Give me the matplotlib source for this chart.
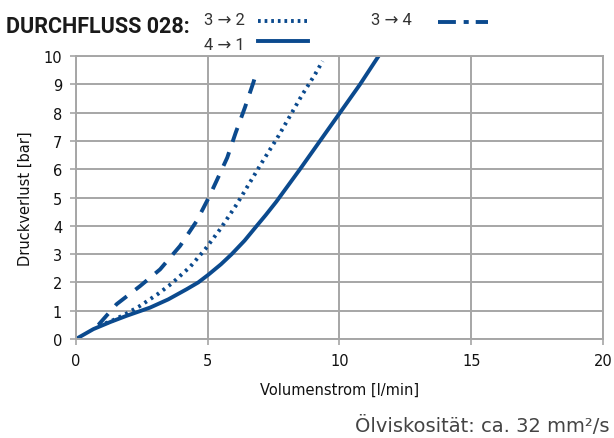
import matplotlib
matplotlib.use("Agg")
import matplotlib.pyplot as plt
from matplotlib.lines import Line2D

# Durchfluss 028, Druckverlust über Volumenstrom
x_41 = [0, 0.66, 1.3, 1.92, 2.81, 3.5, 4.2, 4.64, 5.02, 5.5, 5.91, 6.4, 6.86, 7.2,
        7.6, 8.5, 9.26, 9.99, 10.78, 11.47]
y_41 = [0, 0.35, 0.6, 0.82, 1.11, 1.4, 1.76, 2.0, 2.27, 2.64, 3.0, 3.48, 4.0, 4.38,
        4.85, 6.0, 7.0, 7.96, 9.0, 9.98]

x_32 = [0.85, 1.35, 1.86, 2.43, 3.12, 3.63, 4.33, 4.9, 5.47, 6.1, 7.05, 7.68, 8.12, 8.57, 9.07, 9.36]
y_32 = [0.46, 0.64, 0.87, 1.17, 1.6, 1.96, 2.55, 3.17, 3.88, 4.76, 6.23, 7.17, 7.88, 8.61, 9.35, 9.82]

x_34 = [0.85, 1.54, 2.43, 3.19, 3.95, 4.58, 5.05, 5.34, 5.74, 6.06, 6.41, 6.73, 6.88]
y_34 = [0.5, 1.23, 1.87, 2.46, 3.29, 4.17, 5.02, 5.6, 6.41, 7.29, 8.18, 9.06, 9.53]

xticks = [0, 5, 10, 15, 20]
yticks = list(range(0, 11))

blue = "#0b4a8e"
grid = "#a6a6a6"
txt = "#333333"
narrow = ['Roboto', 'DejaVu Sans']

plt.rcParams['font.family'] = ['DejaVu Sans']

fig = plt.figure(figsize=(6.14, 4.39), dpi=100)
ax = fig.add_axes([0.1238, 0.2255, 0.8582, 0.6445])

ax.plot(x_41, y_41, color=blue, lw=2.8, solid_joinstyle='round')
ax.plot(x_32, y_32, color=blue, lw=2.8, linestyle=(0, (0.7, 1.2)))
ax.plot(x_34, y_34, color=blue, lw=2.8, linestyle=(0, (3.8, 2.8)))

ax.set_xlim(0, 20)
ax.set_ylim(0, 10)
ax.set_xticks(xticks)
ax.set_yticks(yticks)
ax.grid(True, color=grid, lw=1.4)
ax.set_axisbelow(True)
for s in ax.spines.values():
    s.set_color(grid)
    s.set_linewidth(1.4)
ax.tick_params(colors=grid, labelcolor="#111111", labelsize=10.5, length=4, width=1.2, pad=6)

ax.set_xlabel("Volumenstrom [l/min]", fontsize=10.5, color="#111111", labelpad=10)
ax.set_ylabel("Druckverlust [bar]", fontsize=10.5, color="#111111", labelpad=8)

# title and legend
fig.text(0.010, 0.9385, "DURCHFLUSS 028:", fontsize=15.5, fontweight='bold',
         color="#1a1a1a", va='center', ha='left', family=narrow)

fig.text(0.399, 0.954, "3 → 2", fontsize=12, color=txt, va='center', ha='right', family=narrow)
fig.text(0.399, 0.897, "4 → 1", fontsize=12, color=txt, va='center', ha='right', family=narrow)
fig.text(0.671, 0.954, "3 → 4", fontsize=12, color=txt, va='center', ha='right', family=narrow)

fig.add_artist(Line2D([0.420, 0.502], [0.950, 0.950], color=blue, lw=2.8,
                      linestyle=(0, (0.7, 1.0)), transform=fig.transFigure))
fig.add_artist(Line2D([0.420, 0.502], [0.904, 0.904], color=blue, lw=2.8,
                      transform=fig.transFigure))
fig.add_artist(Line2D([0.713, 0.795], [0.948, 0.948], color=blue, lw=2.8,
                      linestyle=(0, (4.6, 2.0, 1.3, 1.8)), transform=fig.transFigure))

fig.text(0.992, 0.03, "Ölviskosität: ca. 32 mm²/s", fontsize=14, color="#444444",
         va='center', ha='right')

fig.savefig("out.png", dpi=100)
